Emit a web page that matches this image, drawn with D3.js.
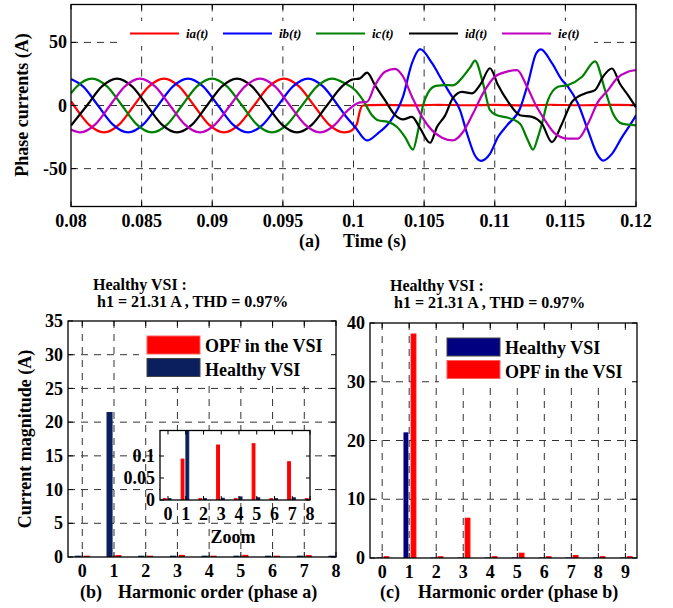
<!DOCTYPE html>
<html>
<head>
<meta charset="utf-8">
<script src="https://cdn.jsdelivr.net/npm/d3@7/dist/d3.min.js"></script>
<style>
  body { margin: 0; background: #fff; }
  svg text { font-family: "Liberation Serif", "Times New Roman", serif; font-weight: bold; fill: #000; }
</style>
</head>
<body>
<div id="chart"></div>
<script>
// ---------- (a) phase currents ----------
const tA = [0.08000,0.08021,0.08127,0.08234,0.08340,0.08446,0.08552,0.08658,0.08765,0.08871,0.08977,0.09083,0.09189,0.09296,0.09402,0.09508,0.09614,0.09720,0.09827,0.09933,0.09975,0.10004,0.10025,0.10046,0.10067,0.10117,0.10223,0.10400,0.10600,0.10800,0.11000,0.11200,0.11400,0.11600,0.11800,0.12000];
const iA = [3.3,0,-15.1,-21.3,-15.1,0,15.1,21.3,15.1,0,-15.1,-21.3,-15.1,0,15.1,21.3,15.1,0,-15.1,-21.3,-20.5,-18,-14.4,-4,0,0.3,0.5,0.1,0.6,0.2,0.5,0.1,0.6,0.2,0.5,0.3];

const tB = [0.08000,0.08085,0.08191,0.08297,0.08404,0.08510,0.08616,0.08722,0.08828,0.08935,0.09041,0.09147,0.09253,0.09359,0.09465,0.09572,0.09678,0.09784,0.09890,0.09940,0.10011,0.10096,0.10173,0.10265,0.10350,0.10414,0.10471,0.10556,0.10627,0.10683,0.10754,0.10804,0.10860,0.10903,0.10966,0.11023,0.11087,0.11179,0.11235,0.11292,0.11327,0.11405,0.11476,0.11519,0.11589,0.11660,0.11724,0.11766,0.11830,0.11901,0.11972,0.12000];
const iB = [21.0,15.1,0,-15.1,-21.3,-15.1,0,15.1,21.3,15.1,0,-15.1,-21.3,-15.1,0,15.1,21.3,15.1,0,-7.7,-17,-27.7,-22,-11.7,6.9,33.5,44.6,33.5,20,9.6,-3.7,-22.3,-39.6,-43.8,-38.3,-25,-15.7,-2.4,17.5,41,44.5,33.5,20.2,14.8,1.6,-19.7,-38.3,-43.6,-38.3,-25,-13,-7.7];

const tC = [0.08000,0.08042,0.08149,0.08255,0.08361,0.08467,0.08573,0.08680,0.08786,0.08892,0.08998,0.09104,0.09211,0.09317,0.09423,0.09529,0.09635,0.09742,0.09848,0.09940,0.10011,0.10067,0.10131,0.10173,0.10244,0.10308,0.10365,0.10421,0.10457,0.10492,0.10527,0.10584,0.10648,0.10704,0.10775,0.10825,0.10860,0.10917,0.10966,0.11016,0.11087,0.11179,0.11235,0.11271,0.11306,0.11334,0.11377,0.11448,0.11519,0.11618,0.11710,0.11781,0.11837,0.11901,0.12000];
const iC = [9.7,15.1,21.3,15.1,0,-15.1,-21.3,-15.1,0,15.1,21.3,15.1,0,-15.1,-21.3,-15.1,0,15.1,21.3,17.5,12.2,4.2,-7.7,-11.7,-13,-17,-25,-35,-20,0,10,15.5,16.2,16,22.8,30,35.6,17.5,-3.7,-7.7,-9.5,-14.4,-27.7,-35,-25,-14.4,4.2,14.8,16.2,22.8,35,12.2,-6.4,-14.4,-15.7];

const tD = [0.08000,0.08113,0.08219,0.08326,0.08432,0.08538,0.08644,0.08750,0.08857,0.08963,0.09069,0.09175,0.09281,0.09388,0.09494,0.09600,0.09706,0.09812,0.09919,0.09989,0.10046,0.10096,0.10152,0.10223,0.10294,0.10350,0.10414,0.10471,0.10542,0.10591,0.10648,0.10704,0.10768,0.10839,0.10903,0.10966,0.11023,0.11094,0.11179,0.11264,0.11334,0.11405,0.11476,0.11547,0.11639,0.11710,0.11766,0.11830,0.11887,0.11943,0.12000];
const iD = [-15.8,0,15.1,21.3,15.1,0,-15.1,-21.3,-15.1,0,15.1,21.3,15.1,0,-15.1,-21.3,-15.1,0,15.1,20.5,21.5,26,16.2,4.2,-7.5,-11,-9,-18,-29.5,-17,-8,6,10.8,9.6,17.5,29.5,16.2,3,-7.7,-9,-14.4,-29,-14.4,2.9,9.6,12.2,22.8,29.3,17,8.2,-1.5];

const tE = [0.08000,0.08064,0.08170,0.08276,0.08382,0.08488,0.08595,0.08701,0.08807,0.08913,0.09019,0.09126,0.09232,0.09338,0.09444,0.09550,0.09657,0.09763,0.09869,0.09940,0.09989,0.10046,0.10096,0.10152,0.10223,0.10294,0.10350,0.10414,0.10485,0.10556,0.10627,0.10704,0.10775,0.10846,0.10917,0.11002,0.11087,0.11158,0.11228,0.11292,0.11356,0.11427,0.11519,0.11589,0.11660,0.11731,0.11802,0.11865,0.11943,0.12000];
const iE = [-19,-21.3,-15.1,0,15.1,21.3,15.1,0,-15.1,-21.3,-15.1,0,15.1,21.3,15.1,0,-15.1,-21.3,-15.1,-6,-1,2.5,3,16,26.8,29,23,7,-9,-19.7,-25.5,-27.7,-21,-6.4,9.6,22.8,26.8,28,15,0,-11.7,-22.3,-26.3,-26.3,-14.4,2.9,12.2,21.5,26.8,28];

const phaseNames = ['ia(t)', 'ib(t)', 'ic(t)', 'id(t)', 'ie(t)'];
const phaseColors = ['#ff0000', '#0000ff', '#008000', '#000000', '#c000c0'];
const timeTicks = [0.08, 0.085, 0.09, 0.095, 0.1, 0.105, 0.11, 0.115, 0.12];
const timeTickLabels = ['0.08', '0.085', '0.09', '0.095', '0.1', '0.105', '0.11', '0.115', '0.12'];
const currentTicks = [-50, 0, 50];

// ---------- (b) harmonics phase a ----------
const harmB = [0, 1, 2, 3, 4, 5, 6, 7, 8];
const healthyB = [0.003, 21.31, 0.003, 0.004, 0.007, 0.005, 0.003, 0.005, 0.002];
const opfB = [0.003, 0.093, 0.003, 0.125, 0.003, 0.128, 0.003, 0.087, 0.003];
const magTicksB = [0, 5, 10, 15, 20, 25, 30, 35];
const zoomTicksY = [0, 0.05, 0.1];

// ---------- (c) harmonics phase b ----------
const harmC = [0, 1, 2, 3, 4, 5, 6, 7, 8, 9];
const healthyC = [0.02, 21.31, 0.01, 0.01, 0.01, 0.01, 0.01, 0.01, 0.01, 0.01];
const opfC = [0.2, 38.1, 0.2, 6.76, 0.2, 0.8, 0.2, 0.4, 0.2, 0.2];
const magTicksC = [0, 10, 20, 30, 40];

const titleLine1 = 'Healthy VSI :';
const titleLine2 = 'h1 = 21.31 A , THD = 0.97%';

//colors
const navyB = '#0b1f5e';
const navyC = '#000080';
const redBar = '#ff0000';
const gridColor = '#333';

const width = 673, height = 608;

const svg = d3.select('#chart')
    .append('svg')
        .attr('width', width)
        .attr('height', height)
        .attr('viewBox', [0, 0, width, height]);

svg.append('rect').attr('width', width).attr('height', height).attr('fill', '#fff');

// helper: dashed grid
function drawGrid(g, xs, ys, box, x, y) {
    g.append('g').selectAll('line')
        .data(xs)
        .join('line')
            .attr('x1', d => x(d)).attr('x2', d => x(d))
            .attr('y1', box.t).attr('y2', box.b)
            .attr('stroke', gridColor)
            .attr('stroke-width', 1)
            .attr('stroke-dasharray', '7,6');
    g.append('g').selectAll('line')
        .data(ys)
        .join('line')
            .attr('y1', d => y(d)).attr('y2', d => y(d))
            .attr('x1', box.l).attr('x2', box.r)
            .attr('stroke', gridColor)
            .attr('stroke-width', 1)
            .attr('stroke-dasharray', '7,6');
}

// helper: inward ticks on all 4 sides + frame
function drawFrame(g, xs, ys, box, x, y, len) {
    const tk = g.append('g').attr('stroke', '#000').attr('stroke-width', 1);
    xs.forEach(d => {
        tk.append('line').attr('x1', x(d)).attr('x2', x(d)).attr('y1', box.b).attr('y2', box.b - len);
        tk.append('line').attr('x1', x(d)).attr('x2', x(d)).attr('y1', box.t).attr('y2', box.t + len);
    });
    ys.forEach(d => {
        tk.append('line').attr('y1', y(d)).attr('y2', y(d)).attr('x1', box.l).attr('x2', box.l + len);
        tk.append('line').attr('y1', y(d)).attr('y2', y(d)).attr('x1', box.r).attr('x2', box.r - len);
    });
    g.append('rect')
        .attr('x', box.l).attr('y', box.t)
        .attr('width', box.r - box.l).attr('height', box.b - box.t)
        .attr('fill', 'none')
        .attr('stroke', '#000')
        .attr('stroke-width', 1.3);
}

function tickLabels(g, xs, labels, ys, ylabels, box, x, y, size, xBase, yRight) {
    g.append('g').selectAll('text')
        .data(xs)
        .join('text')
            .attr('x', d => x(d))
            .attr('y', xBase)
            .attr('text-anchor', 'middle')
            .style('font-size', size + 'px')
            .text((d, i) => labels[i]);
    g.append('g').selectAll('text')
        .data(ys)
        .join('text')
            .attr('x', yRight)
            .attr('y', d => y(d))
            .attr('dy', '0.34em')
            .attr('text-anchor', 'end')
            .style('font-size', size + 'px')
            .text((d, i) => ylabels[i]);
}

// ==================== (a) ====================
const boxA = {l: 71, r: 636, t: 4.5, b: 206.5};
const xA = d3.scaleLinear().domain([0.08, 0.12]).range([boxA.l, boxA.r]);
const yA = d3.scaleLinear().domain([-80, 80]).range([boxA.b, boxA.t]);

const gA = svg.append('g');
drawGrid(gA, timeTicks.slice(1, -1), currentTicks, boxA, xA, yA);

svg.append('clipPath').attr('id', 'clipA')
    .append('rect').attr('x', boxA.l).attr('y', boxA.t)
    .attr('width', boxA.r - boxA.l).attr('height', boxA.b - boxA.t);

const phases = [[tA, iA], [tB, iB], [tC, iC], [tD, iD], [tE, iE]].map(([t, v]) => t.map((d, i) => ({t: d, v: v[i]})));

const line = d3.line()
    .x(d => xA(d.t))
    .y(d => yA(d.v))
    .curve(d3.curveMonotoneX);

gA.append('g')
    .attr('clip-path', 'url(#clipA)')
    .selectAll('path')
    .data(phases)
    .join('path')
        .attr('d', line)
        .attr('fill', 'none')
        .attr('stroke', (d, i) => phaseColors[i])
        .attr('stroke-width', 2.2)
        .attr('stroke-linejoin', 'round');

// legend (a)
const legA = gA.append('g');
legA.append('rect').attr('x', 119).attr('y', 21).attr('width', 475).attr('height', 25).attr('fill', '#fff');
phaseNames.forEach((name, i) => {
    const x0 = 130 + i * 93;
    legA.append('line')
        .attr('x1', x0).attr('x2', x0 + 49)
        .attr('y1', 33.5).attr('y2', 33.5)
        .attr('stroke', phaseColors[i]).attr('stroke-width', 2.2);
    legA.append('text')
        .attr('x', x0 + 56).attr('y', 38)
        .style('font-size', '13px')
        .style('font-style', 'italic')
        .text(name);
});

drawFrame(gA, timeTicks, currentTicks, boxA, xA, yA, 5);
tickLabels(gA, timeTicks, timeTickLabels, currentTicks, currentTicks.map(String), boxA, xA, yA, 18, 227, 67);

gA.append('text')
    .attr('transform', 'translate(28,105) rotate(-90)')
    .attr('text-anchor', 'middle')
    .style('font-size', '18px')
    .text('Phase currents (A)');
gA.append('text').attr('x', 299).attr('y', 247).style('font-size', '18px').text('(a)');
gA.append('text').attr('x', 343).attr('y', 247).style('font-size', '18px').text('Time (s)');

// ==================== bar chart helper ====================
// sw = edge width (keeps the near-zero bars visible, as in the original)
function drawBars(g, harm, vals, x, y, off, bw, color, clip, sw) {
    g.append('g')
        .attr('clip-path', clip)
        .selectAll('rect')
        .data(harm)
        .join('rect')
            .attr('x', d => x(d + off - bw / 2))
            .attr('width', x(bw) - x(0))
            .attr('y', (d, i) => y(vals[i]))
            .attr('height', (d, i) => y(0) - y(vals[i]))
            .attr('fill', color)
            .attr('stroke', color)
            .attr('stroke-width', sw);
}

function legendBox(g, box, items) {
    g.append('rect').attr('x', box.x).attr('y', box.y).attr('width', box.w).attr('height', box.h).attr('fill', '#fff');
    items.forEach((it, i) => {
        g.append('rect')
            .attr('x', box.x + 8).attr('y', box.y + 8 + i * 22.5)
            .attr('width', 53).attr('height', 18)
            .attr('fill', it.color)
            .attr('stroke', it.color === redBar ? '#ff6060' : '#444')
            .attr('stroke-width', 1);
        g.append('text')
            .attr('x', box.x + 66).attr('y', box.y + 24 + i * 23.5)
            .style('font-size', '18px')
            .text(it.name);
    });
}

function titles(g, x, y) {
    g.append('text').attr('x', x).attr('y', y).style('font-size', '16px').text(titleLine1);
    g.append('text').attr('x', x + 4).attr('y', y + 17).style('font-size', '16px').text(titleLine2);
}

// ==================== (b) ====================
const boxB = {l: 68, r: 336, t: 321, b: 557};
const xB = d3.scaleLinear().domain([-0.45, 8]).range([boxB.l, boxB.r]);
const yB = d3.scaleLinear().domain([0, 35]).range([boxB.b, boxB.t]);
const gB = svg.append('g');

svg.append('clipPath').attr('id', 'clipB')
    .append('rect').attr('x', boxB.l).attr('y', boxB.t)
    .attr('width', boxB.r - boxB.l).attr('height', boxB.b - boxB.t);

drawGrid(gB, harmB.slice(0, -1), magTicksB.slice(1, -1), boxB, xB, yB);
drawBars(gB, harmB, healthyB, xB, yB, -0.14, 0.11, navyB, 'url(#clipB)', 2.6);
drawBars(gB, harmB, opfB, xB, yB, 0.14, 0.11, redBar, 'url(#clipB)', 2.6);

legendBox(gB, {x: 139, y: 328, w: 196, h: 57}, [{name: 'OPF in the VSI', color: redBar}, {name: 'Healthy VSI', color: navyB}]);

// inset zoom
const boxI = {l: 160, r: 310, t: 430.5, b: 500};
const xI = d3.scaleLinear().domain([-0.45, 8]).range([boxI.l, boxI.r]);
const yI = d3.scaleLinear().domain([0, 0.158]).range([boxI.b, boxI.t]);
svg.append('clipPath').attr('id', 'clipI')
    .append('rect').attr('x', boxI.l).attr('y', boxI.t)
    .attr('width', boxI.r - boxI.l).attr('height', boxI.b - boxI.t);
const gI = gB.append('g');
gI.append('rect').attr('x', boxI.l).attr('y', boxI.t).attr('width', boxI.r - boxI.l).attr('height', boxI.b - boxI.t).attr('fill', '#fff');
drawBars(gI, harmB, opfB, xI, yI, -0.18, 0.16, redBar, 'url(#clipI)', 1);
drawBars(gI, harmB, healthyB, xI, yI, 0.09, 0.16, navyB, 'url(#clipI)', 1);
drawFrame(gI, harmB, zoomTicksY, boxI, xI, yI, 4);
tickLabels(gI, harmB, harmB.map(String), zoomTicksY, ['0', '0.05', '0.1'], boxI, xI, yI, 18, 520, 155);
gI.append('text').attr('x', 233).attr('y', 543).attr('text-anchor', 'middle').style('font-size', '18px').text('Zoom');

drawFrame(gB, harmB, magTicksB, boxB, xB, yB, 5);
tickLabels(gB, harmB, harmB.map(String), magTicksB, magTicksB.map(String), boxB, xB, yB, 18, 577, 63);
gB.append('text')
    .attr('transform', 'translate(31,439) rotate(-90)')
    .attr('text-anchor', 'middle')
    .style('font-size', '18px')
    .text('Current magnitude (A)');
gB.append('text').attr('x', 80).attr('y', 598).style('font-size', '18px').text('(b)');
gB.append('text').attr('x', 118).attr('y', 598).style('font-size', '18px').text('Harmonic order (phase a)');
titles(gB, 93, 290);

// ==================== (c) ====================
const boxC = {l: 370, r: 637, t: 323, b: 558};
const xC = d3.scaleLinear().domain([-0.45, 9.43]).range([boxC.l, boxC.r]);
const yC = d3.scaleLinear().domain([0, 40]).range([boxC.b, boxC.t]);
const gC = svg.append('g');
svg.append('clipPath').attr('id', 'clipC')
    .append('rect').attr('x', boxC.l).attr('y', boxC.t)
    .attr('width', boxC.r - boxC.l).attr('height', boxC.b - boxC.t);

drawGrid(gC, harmC, magTicksC.slice(1, -1), boxC, xC, yC);
drawBars(gC, harmC, healthyC, xC, yC, -0.12, 0.15, navyC, 'url(#clipC)', 0.8);
drawBars(gC, harmC, opfC, xC, yC, 0.16, 0.17, redBar, 'url(#clipC)', 1.2);
legendBox(gC, {x: 439, y: 330, w: 197, h: 56}, [{name: 'Healthy VSI', color: navyC}, {name: 'OPF in the VSI', color: redBar}]);

drawFrame(gC, harmC, magTicksC, boxC, xC, yC, 5);
tickLabels(gC, harmC, harmC.map(String), magTicksC, magTicksC.map(String), boxC, xC, yC, 18, 578, 365);
gC.append('text').attr('x', 380).attr('y', 598).style('font-size', '18px').text('(c)');
gC.append('text').attr('x', 418).attr('y', 598).style('font-size', '18px').text('Harmonic order (phase b)');
titles(gC, 390, 291);
</script>
</body>
</html>
